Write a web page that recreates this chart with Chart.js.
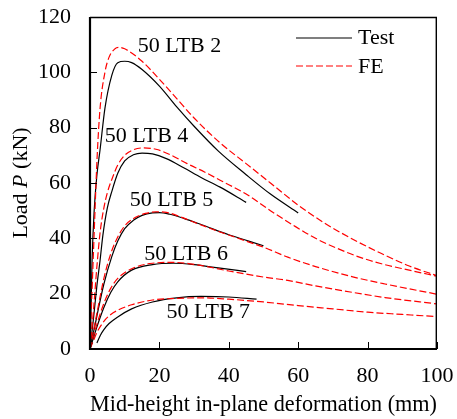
<!DOCTYPE html>
<html>
<head>
<meta charset="utf-8">
<script src="https://cdn.jsdelivr.net/npm/chart.js@4.4.1/dist/chart.umd.min.js"></script>
<style>
  html, body { margin: 0; padding: 0; background: #fff; }
</style>
</head>
<body>
<canvas id="loadChart" width="457" height="419"></canvas>
<script>
const canvas = document.getElementById('loadChart');
const ctx = canvas.getContext('2d');

//// mid-height deformation (mm) vs load P (kN)
const test2X = [0, 0.3, 0.6, 1.2, 2, 2.9, 4.3, 6.3, 8, 10, 12, 15, 20, 25, 30, 37, 45, 52, 60];
const test2Y = [0, 15, 32, 50, 63, 72, 87, 99, 103.5, 104, 103.5, 101, 95, 87.5, 80.5, 71.5, 63, 56, 49.2];
const fe2X = [0, 0.5, 1, 1.5, 2, 2.9, 4.3, 5.5, 7.2, 8.5, 10, 12, 15, 20, 25, 30, 37.5, 45, 52, 60, 68, 76, 84, 92, 100];
const fe2Y = [0, 18, 35, 52, 68, 87, 100, 105.5, 108.5, 109, 108.5, 107, 104, 97.5, 90.5, 83.5, 74.5, 67, 60, 52, 45.2, 39.5, 34.5, 30, 26.5];

const test4X = [0, 1, 2, 2.9, 3.7, 5, 6.3, 8, 10, 12.5, 15, 18, 22, 27, 32, 37.5, 45];
const test4Y = [0, 11, 23, 32, 41, 51, 57, 63.5, 68, 70.2, 70.8, 70.5, 68.8, 65.5, 62, 58.5, 53];
const fe4X = [0, 1, 2, 2.9, 4, 5, 6.5, 8, 10, 12.5, 15.5, 19, 23, 28, 33, 37.5, 45, 52, 58.5, 65, 71, 77, 84, 92, 100];
const fe4Y = [0, 14, 30, 42, 51, 56.5, 62, 66.5, 70, 72, 72.7, 72.2, 70.3, 67, 64, 61, 56, 50, 44.8, 40, 36.5, 33.5, 30.8, 28.5, 26.3];

const test5X = [0, 2, 4, 6.3, 8, 10, 12.5, 15, 18, 20, 23, 27, 32, 40, 45, 50];
const test5Y = [0, 12, 23.5, 33.5, 39, 43.5, 46.5, 48.3, 49.2, 49.3, 48.7, 47.2, 45, 41.3, 39.3, 37.3];
const fe5X = [0, 2, 4, 6, 8, 10, 13, 16, 19, 22, 26, 30, 37.5, 45, 50, 57, 65, 76, 85, 100];
const fe5Y = [0, 13, 25.5, 34.5, 40.5, 44.5, 47.5, 49, 49.6, 49.4, 47.8, 45.8, 42.3, 39, 36.8, 33.2, 29.8, 26, 23.5, 19.8];

const test6X = [0, 2, 4, 6, 8, 12, 18, 24, 30, 37.5, 45];
const test6Y = [0, 8, 15, 20.5, 24.3, 28.5, 30.5, 31, 30.5, 29.2, 28];
const fe6X = [0, 2, 4, 6, 8, 12, 18, 24, 30, 40, 50, 57, 65, 75, 85, 100];
const fe6Y = [0, 9, 16.5, 22, 25.5, 29, 31, 31.3, 30.6, 28.2, 26, 24.8, 22.8, 20.6, 18.6, 16.3];

const test7X = [2, 3, 4, 5.5, 8, 12, 18, 25, 32, 40, 48];
const test7Y = [2.2, 5, 7, 9.2, 11.6, 14.5, 17, 18.5, 19, 18.8, 18];
const fe7X = [0, 1, 2, 4, 6, 8, 12, 18, 25, 32, 40, 50, 60, 70, 80, 90, 100];
const fe7Y = [0, 3, 6, 10, 12.5, 14, 16, 17.7, 18.3, 18.5, 18, 17, 15.7, 14.5, 13.3, 12.5, 11.7];

// curve names and where they sit (data units)
const specimenNames = ['50 LTB 2', '50 LTB 4', '50 LTB 5', '50 LTB 6', '50 LTB 7'];
const nameX = [25.8, 16.3, 23.5, 27.7, 34.1];
const nameY = [109.6, 76.8, 53.6, 34.4, 13.4];

const xTicks = [0, 20, 40, 60, 80, 100];
const yTicks = [0, 20, 40, 60, 80, 100, 120];

const serif = "'Liberation Serif', 'Times New Roman', serif";

function pts(xs, ys) {
  return xs.map((x, i) => ({ x: x, y: ys[i] }));
}

function testSet(xs, ys) {
  return {
    label: 'Test',
    data: pts(xs, ys),
    borderColor: '#000',
    borderWidth: 1.2,
    pointRadius: 0,
    cubicInterpolationMode: 'monotone'
  };
}

function feSet(xs, ys) {
  return {
    label: 'FE',
    data: pts(xs, ys),
    borderColor: '#ff0000',
    borderWidth: 1.2,
    borderDash: [7, 3],
    pointRadius: 0,
    cubicInterpolationMode: 'monotone'
  };
}

const datasets = [
  feSet(fe2X, fe2Y), testSet(test2X, test2Y),
  feSet(fe4X, fe4Y), testSet(test4X, test4Y),
  feSet(fe5X, fe5Y), testSet(test5X, test5Y),
  feSet(fe6X, fe6Y), testSet(test6X, test6Y),
  feSet(fe7X, fe7Y), testSet(test7X, test7Y)
];

// frame, inward ticks, legend, curve names, y title
const decor = {
  id: 'decor',
  afterDatasetsDraw(chart) {
    const c = chart.ctx;
    const a = chart.chartArea;
    const xs = chart.scales.x, ys = chart.scales.y;
    c.save();
    c.strokeStyle = '#000';

    // frame
    c.lineWidth = 1.4;
    c.beginPath();
    c.moveTo(a.left, a.top + 0.5);
    c.lineTo(a.right - 0.7, a.top + 0.5);
    c.lineTo(a.right - 0.7, a.bottom);
    c.stroke();
    c.lineWidth = 2.2;
    c.beginPath();
    c.moveTo(a.left, a.top);
    c.lineTo(a.left, a.bottom);
    c.lineTo(a.right, a.bottom);
    c.stroke();

    // ticks pointing in
    c.lineWidth = 1;
    yTicks.forEach(v => {
      const py = Math.round(ys.getPixelForValue(v)) + 0.5;
      c.beginPath();
      c.moveTo(a.left, py);
      c.lineTo(a.left + 7, py);
      c.stroke();
    });
    xTicks.forEach(v => {
      const px = Math.round(xs.getPixelForValue(v)) + 0.5;
      c.beginPath();
      c.moveTo(px, a.bottom);
      c.lineTo(px, a.bottom - 7);
      c.stroke();
    });

    // legend
    c.font = '22px ' + serif;
    c.fillStyle = '#000';
    c.textBaseline = 'middle';
    c.textAlign = 'left';
    const lx0 = a.right - 141, lx1 = a.right - 85;
    c.lineWidth = 1.2;
    c.beginPath();
    c.moveTo(lx0, a.top + 21);
    c.lineTo(lx1, a.top + 21);
    c.stroke();
    c.fillText('Test', a.right - 79, a.top + 21);
    c.strokeStyle = '#ff0000';
    c.setLineDash([7, 3]);
    c.beginPath();
    c.moveTo(lx0, a.top + 49);
    c.lineTo(lx1, a.top + 49);
    c.stroke();
    c.setLineDash([]);
    c.fillText('FE', a.right - 79, a.top + 50);

    // specimen names
    c.font = '22px ' + serif;
    c.textAlign = 'center';
    specimenNames.forEach((n, i) => {
      c.fillText(n, xs.getPixelForValue(nameX[i]), ys.getPixelForValue(nameY[i]));
    });

    // y title with italic P
    c.translate(21, (a.top + a.bottom) / 2);
    c.rotate(-Math.PI / 2);
    const parts = [['Load ', ''], ['P', 'italic '], [' (kN)', '']];
    let total = 0;
    parts.forEach(p => { c.font = p[1] + '22px ' + serif; total += c.measureText(p[0]).width; });
    let x = -total / 2;
    c.textAlign = 'left';
    parts.forEach(p => {
      c.font = p[1] + '22px ' + serif;
      c.fillText(p[0], x, 0);
      x += c.measureText(p[0]).width;
    });
    c.restore();
  }
};

Chart.defaults.color = '#000';
Chart.defaults.font.family = serif;

new Chart(ctx, {
  type: 'line',
  data: { datasets },
  options: {
    responsive: false,
    animation: false,
    layout: { padding: { top: 17, right: 20, left: 0, bottom: 0 } },
    plugins: {
      legend: { display: false },
      tooltip: { enabled: false }
    },
    scales: {
      x: {
        type: 'linear',
        min: 0,
        max: 100,
        afterFit: s => { s.height = 70; s.paddingLeft = 0; s.paddingRight = 0; },
        afterBuildTicks: s => { s.ticks = xTicks.map(v => ({ value: v })); },
        grid: { display: false, drawTicks: false },
        border: { display: false },
        ticks: { padding: 14, font: { size: 22 } },
        title: {
          display: true,
          text: 'Mid-height in-plane deformation (mm)',
          font: { size: 22.5 },
          padding: { top: 0, bottom: 0 }
        }
      },
      y: {
        type: 'linear',
        min: 0,
        max: 120,
        afterFit: s => { s.width = 90; s.paddingTop = 0; s.paddingBottom = 0; },
        afterBuildTicks: s => { s.ticks = yTicks.map(v => ({ value: v })); },
        grid: { display: false, drawTicks: false },
        border: { display: false },
        ticks: { padding: 19, font: { size: 22 } }
      }
    }
  },
  plugins: [decor]
});
</script>
</body>
</html>
